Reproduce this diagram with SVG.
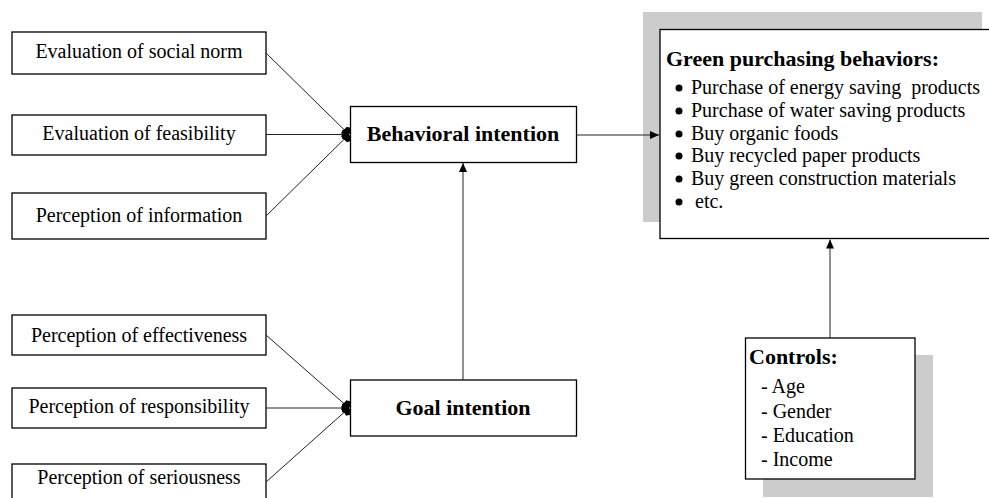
<svg xmlns="http://www.w3.org/2000/svg" width="989" height="498" viewBox="0 0 989 498">
  <style>
    .box { fill: #ffffff; stroke: #000000; stroke-width: 1.3; }
    .shadow { fill: #cccccc; stroke: none; }
    .lbl { font-family: "Liberation Serif", "Times New Roman", serif; font-size: 20px; fill: #000000; white-space: pre; }
    .c { text-anchor: middle; }
    .b { font-weight: bold; font-size: 22px; }
    .conn { stroke: #222222; stroke-width: 1; fill: none; }
  </style>
  <defs>
    <marker id="dot" markerWidth="8" markerHeight="12" refX="7" refY="6" orient="auto" markerUnits="userSpaceOnUse">
      <path d="M0,2 L4,0 L7,4 L7,8 L4,12 L0,10 Z" fill="#000"/>
    </marker>
    <marker id="tri" markerWidth="10" markerHeight="10" refX="9" refY="5" orient="auto" markerUnits="userSpaceOnUse">
      <path d="M0,1 L9,5 L0,9 Z" fill="#000"/>
    </marker>
  </defs>

  <!-- antecedent boxes -->
  <g id="social-norm">
    <rect class="box" x="12" y="32" width="254" height="42"/>
    <text class="lbl c" x="139" y="58">Evaluation of social norm</text>
  </g>
  <g id="feasibility">
    <rect class="box" x="12" y="115" width="254" height="40"/>
    <text class="lbl c" x="139" y="140">Evaluation of feasibility</text>
  </g>
  <g id="information">
    <rect class="box" x="12" y="193" width="254" height="46"/>
    <text class="lbl c" x="139" y="222">Perception of information</text>
  </g>
  <g id="effectiveness">
    <rect class="box" x="12" y="315" width="254" height="40"/>
    <text class="lbl c" x="139" y="342">Perception of effectiveness</text>
  </g>
  <g id="responsibility">
    <rect class="box" x="12" y="388" width="254" height="40"/>
    <text class="lbl c" x="139" y="413">Perception of responsibility</text>
  </g>
  <g id="seriousness">
    <rect class="box" x="12" y="464" width="254" height="44"/>
    <text class="lbl c" x="139" y="484">Perception of seriousness</text>
  </g>

  <!-- intentions -->
  <g id="behavioral-intention">
    <rect class="box" x="350.5" y="106.5" width="226" height="56"/>
    <text class="lbl c b" x="463" y="141">Behavioral intention</text>
  </g>
  <g id="goal-intention">
    <rect class="box" x="350.5" y="380" width="226" height="56"/>
    <text class="lbl c b" x="463" y="415">Goal intention</text>
  </g>

  <!-- outcome -->
  <g id="green-purchasing">
    <rect class="shadow" x="643" y="12" width="339" height="210"/>
    <rect class="box" x="660" y="29.5" width="335" height="209"/>
    <text class="lbl b" x="666" y="66">Green purchasing behaviors:</text>
    <g class="lbl">
      <circle cx="679" cy="88" r="3.5"/>
      <text x="691" y="94" xml:space="preserve">Purchase of energy saving  products</text>
      <circle cx="679" cy="111" r="3.5"/>
      <text x="691" y="117">Purchase of water saving products</text>
      <circle cx="679" cy="134" r="3.5"/>
      <text x="691" y="140">Buy organic foods</text>
      <circle cx="679" cy="156" r="3.5"/>
      <text x="691" y="162">Buy recycled paper products</text>
      <circle cx="679" cy="179" r="3.5"/>
      <text x="691" y="185">Buy green construction materials</text>
      <circle cx="679" cy="202" r="3.5"/>
      <text x="695" y="208">etc.</text>
    </g>
  </g>

  <g id="controls">
    <rect class="shadow" x="763" y="355" width="170" height="142"/>
    <rect class="box" x="745.5" y="338" width="169.5" height="141"/>
    <text class="lbl b" x="749" y="364">Controls:</text>
    <text class="lbl" x="761" y="393">- Age</text>
    <text class="lbl" x="761" y="418">- Gender</text>
    <text class="lbl" x="761" y="442">- Education</text>
    <text class="lbl" x="761" y="466">- Income</text>
  </g>

  <!-- connectors -->
  <g id="connectors">
    <line class="conn" x1="266" y1="53" x2="349" y2="134.5" marker-end="url(#dot)"/>
    <line class="conn" x1="266" y1="134.5" x2="349" y2="134.5" marker-end="url(#dot)"/>
    <line class="conn" x1="266" y1="216" x2="349" y2="134.5" marker-end="url(#dot)"/>
    <line class="conn" x1="266" y1="335" x2="349" y2="408" marker-end="url(#dot)"/>
    <line class="conn" x1="266" y1="408" x2="349" y2="408" marker-end="url(#dot)"/>
    <line class="conn" x1="266" y1="482" x2="349" y2="408" marker-end="url(#dot)"/>
    <line class="conn" x1="463" y1="380" x2="463" y2="163" marker-end="url(#tri)"/>
    <line class="conn" x1="577" y1="135" x2="659" y2="135" marker-end="url(#tri)"/>
    <line class="conn" x1="830" y1="338" x2="830" y2="239.5" marker-end="url(#tri)"/>
  </g>
</svg>
